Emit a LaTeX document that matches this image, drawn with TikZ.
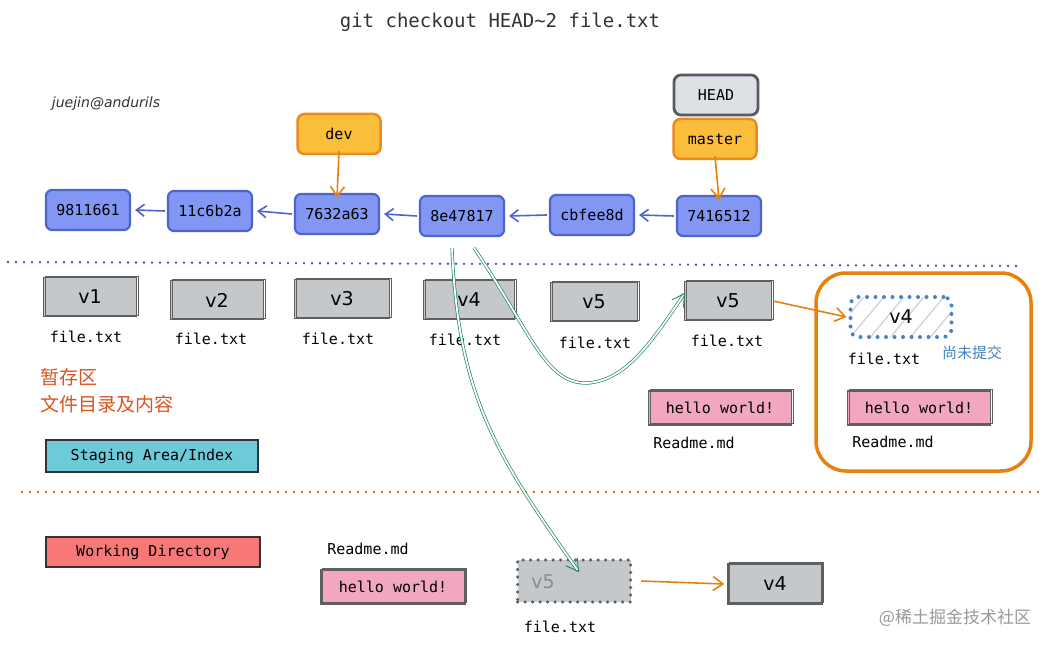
\documentclass[tikz,border=0pt]{standalone}
\usepackage{fontspec}
\setmainfont{DejaVu Sans}
\setmonofont{DejaVu Sans Mono}
\newfontfamily\cjk{Noto Sans CJK SC}
\newfontfamily\hand{DejaVu Sans}
\usetikzlibrary{arrows.meta}
\definecolor{cfill}{HTML}{8197F3}
\definecolor{cdraw}{HTML}{4F63CF}
\definecolor{ofill}{HTML}{FBBE3A}
\definecolor{odraw}{HTML}{EC8A1F}
\definecolor{hfill}{HTML}{DDE1E6}
\definecolor{hdraw}{HTML}{575B60}
\definecolor{gfill}{HTML}{C5C8CB}
\definecolor{gdraw}{HTML}{5F5F5F}
\definecolor{pfill}{HTML}{F1A6C1}
\definecolor{cyanfill}{HTML}{6CCAD9}
\definecolor{redfill}{HTML}{F87878}
\definecolor{grn}{HTML}{1E8A60}
\definecolor{orl}{HTML}{E8800C}
\definecolor{orangetxt}{HTML}{D9541E}
\definecolor{bluedot}{HTML}{4A82BA}
\definecolor{dotblue}{HTML}{4450B8}
\definecolor{dotorange}{HTML}{D9662A}
\definecolor{hatch}{HTML}{C9D3DE}
\tikzset{
  commit/.style={draw=cdraw, fill=cfill, line width=2.2pt, rounded corners=6pt,
    minimum width=84pt, minimum height=40pt, inner sep=0pt,
    font=\ttfamily\fontsize{15}{17}\selectfont},
  branch/.style={draw=odraw, fill=ofill, line width=2.5pt, rounded corners=7pt,
    minimum width=83pt, minimum height=40pt, inner sep=0pt,
    font=\ttfamily\fontsize{15}{17}\selectfont},
  headbox/.style={draw=hdraw, fill=hfill, line width=2.8pt, rounded corners=7pt,
    minimum width=84pt, minimum height=40pt, inner sep=0pt,
    font=\ttfamily\fontsize{15}{17}\selectfont},
  vbox/.style={draw=gdraw, fill=gfill, line width=1.3pt, inner sep=0pt,
    minimum height=39pt, font=\fontsize{19}{21}\selectfont,
    postaction={draw=gdraw, line width=0.8pt, transform canvas={shift={(1.5pt,1.2pt)}}}},
  hello/.style={draw=gdraw, fill=pfill, line width=1.3pt, inner sep=0pt,
    minimum width=143pt, minimum height=34pt, font=\ttfamily\fontsize{15}{17}\selectfont,
    postaction={draw=gdraw, line width=0.8pt, transform canvas={shift={(1.5pt,1.5pt)}}}},
  fname/.style={font=\ttfamily\fontsize{15}{17}\selectfont, inner sep=0pt},
  label/.style={draw=black!80, line width=1.1pt, inner sep=0pt, minimum height=32pt,
    font=\ttfamily\fontsize{15}{17}\selectfont},
  barr/.style={draw=cdraw, line width=1.6pt, -{Straight Barb[length=8pt,width=12pt,line width=1.6pt]}},
  oarr/.style={draw=orl, line width=1.6pt, -{Straight Barb[length=10pt,width=14pt,line width=1.6pt]}},
  garr/.style={draw=grn, line width=0.7pt, double=white, double distance=1.8pt,
    -{Straight Barb[length=12pt,width=14pt,line width=0.9pt]}},
}
\begin{document}
\begin{tikzpicture}[x=1pt,y=-1pt]
\useasboundingbox (0,0) rectangle (1054,647);
\fill[white] (0,0) rectangle (1054,647);

% title
\node[font=\ttfamily\fontsize{19}{21}\selectfont, text=black!80] (title) at (500,22) {git checkout HEAD\textasciitilde 2 file.txt};
\node[font=\hand\itshape\fontsize{14}{16}\selectfont, text=black!80] (sig) at (106,104) {juejin@andurils};

% commits
\node[commit] (c1) at (88,210) {9811661};
\node[commit] (c2) at (210,211) {11c6b2a};
\node[commit] (c3) at (337,214) {7632a63};
\node[commit] (c4) at (462,216) {8e47817};
\node[commit] (c5) at (592,215) {cbfee8d};
\node[commit] (c6) at (719,216) {7416512};
\draw[barr] (c2.west) ++(-2pt,0) -- ([xshift=4pt]c1.east);
\draw[barr] (c3.west) ++(-2pt,0) -- ([xshift=4pt]c2.east);
\draw[barr] (c4.west) ++(-2pt,0) -- ([xshift=4pt]c3.east);
\draw[barr] (c5.west) ++(-2pt,0) -- ([xshift=4pt]c4.east);
\draw[barr] (c6.west) ++(-2pt,0) -- ([xshift=4pt]c5.east);

% branches
\node[branch] (dev) at (339,134) {dev};
\node[headbox] (head) at (716,95) {HEAD};
\node[branch] (master) at (715,139) {master};
\draw[oarr] ([yshift=4pt]dev.south) -- ([yshift=-5pt]c3.north);
\draw[oarr] ([yshift=4pt]master.south) -- ([yshift=-5pt]c6.north);

% separators
\draw[dotblue, line width=2.6pt, line cap=round, dash pattern=on 0pt off 8pt] (8,262) -- (1020,266);
\draw[dotorange, line width=2.6pt, line cap=round, dash pattern=on 0pt off 8pt] (22,492) -- (1045,492);

% staging files
\node[vbox, minimum width=93pt] (v1) at (90,297) {v1};
\node[fname] (f1) at (86,337) {file.txt};
\node[vbox, minimum width=93pt] (v2) at (217,300) {v2};
\node[fname] (f2) at (211,339) {file.txt};
\node[vbox, minimum width=95pt] (v3) at (342,299) {v3};
\node[fname] (f3) at (338,339) {file.txt};
\node[vbox, minimum width=91pt] (v4) at (469,300) {v4};
\node[fname] (f4) at (465,340) {file.txt};
\node[vbox, minimum width=87pt] (v5a) at (594,302) {v5};
\node[fname] (f5) at (595,343) {file.txt};
\node[vbox, minimum width=87pt] (v5b) at (728,301) {v5};
\node[fname] (f6) at (727,341) {file.txt};

% uncommitted group
\node[draw=orl, line width=3.5pt, rounded corners=30pt, minimum width=215pt, minimum height=198pt] (grp) at (923.5,372) {};
\node[draw=bluedot, line width=4pt, line cap=round, dash pattern=on 0pt off 8.5pt, rounded corners=8pt,
  minimum width=101pt, minimum height=40pt,
  path picture={\foreach \k in {-60,-40,...,100}{\draw[hatch, solid, line cap=butt, line width=1.2pt] ([xshift=\k pt]path picture bounding box.south west) -- ++(40pt,48pt);}},
  font=\fontsize{19}{21}\selectfont] (v4s) at (901,317) {v4};
\node[fname] (f7) at (884,359) {file.txt};
\node[font=\cjk\fontsize{15}{17}\selectfont, text=bluedot] (wip) at (972,353) {尚未提交};
\draw[oarr] ([xshift=1pt]v5b.east) -- ([xshift=-2pt]v4s.west);

\node[hello] (hw1) at (720,408) {hello world!};
\node[fname] (r1) at (694,443) {Readme.md};
\node[hello] (hw2) at (919,408) {hello world!};
\node[fname] (r2) at (893,442) {Readme.md};

% staging labels
\node[font=\cjk\fontsize{19}{27}\selectfont, text=orangetxt, align=left, anchor=north west, inner sep=0pt] (zc) at (40,368) {暂存区\\文件目录及内容};
\node[label, fill=cyanfill, minimum width=212pt] (sa) at (152,456) {Staging Area/Index};

% working directory
\node[label, fill=redfill, minimum width=214pt, minimum height=30pt] (wd) at (153,552) {Working Directory};
\node[fname] (r3) at (368,549) {Readme.md};
\node[hello, minimum width=144pt, minimum height=34pt] (hw3) at (393,587) {hello world!};
\node[draw=gdraw, fill=gfill, line width=3.5pt, line cap=round, dash pattern=on 0pt off 7.5pt,
  minimum width=113pt, minimum height=42pt] (v5w) at (574,581) {};
\node[font=\fontsize{19}{21}\selectfont, text=black!45] (v5wl) at (543,582) {v5};
\node[fname] (f8) at (560,627) {file.txt};
\node[vbox, minimum width=94pt, minimum height=40pt] (v4w) at (775,584) {v4};
\draw[oarr] ([xshift=9pt]v5w.east) -- ([xshift=-3pt]v4w.west);

% green arrows
\coordinate (g1s) at (452,248);
\coordinate (g2s) at (474,248);
\draw[garr] (g1s) .. controls (458,400) and (500,460) .. ([xshift=5pt,yshift=-14pt]v5w.north);
\draw[garr] (g2s) .. controls (530,330) and (545,385) .. (588,383) .. controls (625,380) and (650,345) .. ([xshift=1pt,yshift=8pt]v5b.west);

% watermark
\node[font=\cjk\fontsize{17}{19}\selectfont, text=black!40] (wm) at (955,618) {@稀土掘金技术社区};
\end{tikzpicture}
\end{document}
